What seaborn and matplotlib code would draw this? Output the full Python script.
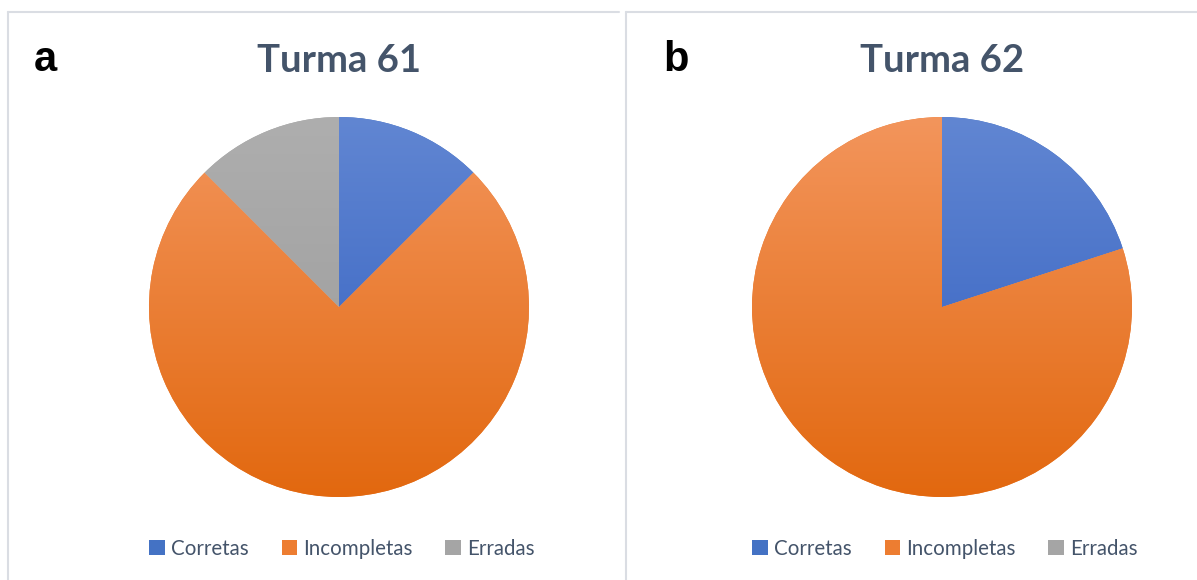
import numpy as np
import matplotlib
matplotlib.use("Agg")
import matplotlib.pyplot as plt
import seaborn as sns
from matplotlib.colors import LinearSegmentedColormap
from matplotlib.patches import Rectangle
from matplotlib.lines import Line2D

sns.set_theme(style="white")
plt.rcParams["font.family"] = ["Lato", "DejaVu Sans"]

categories = ["Corretas", "Incompletas", "Erradas"]
turma61 = [12.5, 75.0, 12.5]
turma62 = [20.0, 80.0, 0.0]
titles = ["Turma 61", "Turma 62"]
panel_letters = ["a", "b"]

# base colours per category, with light (top) and dark (bottom) gradient stops
base = sns.color_palette(["#4472C4", "#ED7D31", "#A5A5A5"])
grad_top = ["#6186D2", "#F3955C", "#AEAEAE"]
grad_bot = ["#2F5DBF", "#E2680F", "#999999"]

W, H = 1197, 580
fig = plt.figure(figsize=(W / 100, H / 100), dpi=100)
fig.patch.set_facecolor("white")

# panel frames (only the visible edges)
frame_col = "#DADDE3"
def fig_line(xs, ys):
    fig.add_artist(Line2D([x / W for x in xs], [1 - y / H for y in ys],
                          transform=fig.transFigure, color=frame_col, linewidth=1.5))

fig_line([8, 619], [12, 12])
fig_line([8, 8], [12, 600])
fig_line([626, 1200], [12, 12])
fig_line([626, 626], [12, 600])

centers = [339, 942]
radius = 190
cy = 307

for i, (vals, title, letter) in enumerate(zip([turma61, turma62], titles, panel_letters)):
    cx = centers[i]
    ax = fig.add_axes([(cx - radius) / W, 1 - (cy + radius) / H, 2 * radius / W, 2 * radius / H])
    wedges, _ = ax.pie(vals, colors=base, startangle=90, counterclock=False,
                       radius=1.0, wedgeprops=dict(linewidth=0))
    ax.set_aspect("equal")
    ax.axis("off")
    # vertical gradient fill clipped to each wedge
    for j, w in enumerate(wedges):
        if vals[j] <= 0:
            continue
        cmap = LinearSegmentedColormap.from_list(f"g{j}", [grad_top[j], grad_bot[j]])
        grad = np.linspace(0, 1, 256).reshape(-1, 1)
        im = ax.imshow(grad, cmap=cmap, extent=[-1, 1, -1, 1], origin="upper",
                       aspect="auto", zorder=2, interpolation="bilinear")
        im.set_clip_path(w)
    ax.set_xlim(-1, 1)
    ax.set_ylim(-1, 1)

    fig.text(cx / W, 1 - 61 / H, title, ha="center", va="center",
             fontsize=27.5, fontweight="bold", color="#44546A")
    lx = [45, 676][i]
    fig.text(lx / W, 1 - 60 / H, letter, ha="center", va="center",
             fontsize=30, fontweight="bold", color="black",
             family=["Liberation Sans", "DejaVu Sans"])

    handles = [Rectangle((0, 0), 1, 1, facecolor=c, edgecolor="none") for c in base]
    fig.legend(handles, categories, loc="center", bbox_to_anchor=(cx / W + 3 / W, 1 - 549 / H),
               ncol=3, frameon=False, fontsize=14.8, labelcolor="#44546A",
               handlelength=0.75, handleheight=0.75, handletextpad=0.3,
               columnspacing=1.6)

fig.savefig("out.png", dpi=100, facecolor="white")
